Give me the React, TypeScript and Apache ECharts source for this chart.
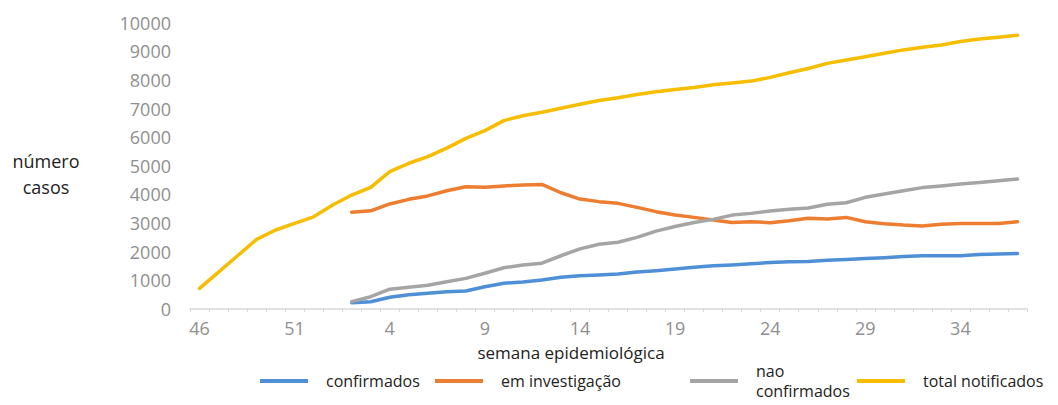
import React, { useEffect, useRef } from "react";
import * as echarts from "echarts";

const weeks: string[] = [
  "46", "47", "48", "49", "50", "51", "52",
  "1", "2", "3", "4", "5", "6", "7", "8", "9", "10", "11", "12", "13", "14", "15", "16", "17", "18", "19",
  "20", "21", "22", "23", "24", "25", "26", "27", "28", "29", "30", "31", "32", "33", "34", "35", "36", "37",
];

const confirmados: (number | null)[] = [
  null, null, null, null, null, null, null, null,
  220, 256, 410, 500, 550, 600, 630, 780, 900, 940, 1010, 1110, 1160, 1190, 1220, 1290, 1340, 1400,
  1460, 1510, 1540, 1580, 1620, 1650, 1660, 1700, 1730, 1760, 1790, 1830, 1860, 1860, 1860, 1900, 1920, 1940,
];

const emInvestigacao: (number | null)[] = [
  null, null, null, null, null, null, null, null,
  3380, 3430, 3670, 3830, 3950, 4130, 4270, 4250, 4300, 4330, 4350, 4060, 3840, 3750, 3690, 3550, 3400, 3280,
  3200, 3110, 3020, 3050, 3015, 3085, 3170, 3140, 3200, 3050, 2980, 2930, 2900, 2960, 2990, 2990, 2990, 3050,
];

const naoConfirmados: (number | null)[] = [
  null, null, null, null, null, null, null, null,
  256, 430, 690, 760, 830, 950, 1070, 1250, 1440, 1540, 1600, 1860, 2100, 2260, 2330, 2500, 2720, 2880,
  3020, 3130, 3280, 3340, 3420, 3480, 3530, 3660, 3710, 3900, 4020, 4130, 4240, 4300, 4370, 4420, 4480, 4540,
];

const totalNotificados: number[] = [
  720, 1290, 1860, 2430, 2760, 2990, 3220, 3630, 3980, 4250, 4800, 5090, 5320, 5620, 5960, 6230, 6580, 6750,
  6870, 7010, 7150, 7280, 7380, 7490, 7590, 7670, 7740, 7830, 7890, 7960, 8090, 8250, 8400, 8580, 8700, 8810,
  8930, 9050, 9140, 9220, 9340, 9430, 9490, 9560,
];

const seriesNames = ["confirmados", "em investigação", "nao confirmados", "total notificados"];
const seriesColors = ["#4f8fd6", "#ed7d31", "#a5a5a5", "#f7bd00"];

const WORD_FONT = '"Open Sans", "DejaVu Sans", sans-serif';

export default function App() {
  const ref = useRef<HTMLDivElement>(null);

  useEffect(() => {
    if (!ref.current) return;
    const chart = echarts.init(ref.current, undefined, { renderer: "svg" });
    const values = [confirmados, emInvestigacao, naoConfirmados, totalNotificados];

    const legendText = {
      fontFamily: WORD_FONT,
      fontSize: 16,
      color: "#222",
      lineHeight: 20,
      padding: [0, 0, 0, 13],
    };
    const legendBase = {
      orient: "horizontal",
      padding: 0,
      itemWidth: 48,
      itemHeight: 4,
      icon: "rect",
      selectedMode: false,
    };

    chart.setOption({
      animation: false,
      backgroundColor: "#ffffff",
      grid: {
        left: 190,
        right: 31,
        top: 22.7,
        bottom: 96,
        containLabel: false,
        outerBoundsMode: "none",
      },
      xAxis: {
        type: "category",
        data: weeks,
        boundaryGap: true,
        axisLine: { show: true, lineStyle: { color: "#d9d9d9", width: 1.5 } },
        axisTick: { show: true, interval: 0, length: 3, lineStyle: { color: "#d9d9d9" } },
        axisLabel: {
          interval: 4,
          margin: 11,
          color: "#8f8f8f",
          fontFamily: WORD_FONT,
          fontSize: 18,
          lineHeight: 16,
        },
        splitLine: { show: false },
      },
      yAxis: {
        type: "value",
        min: 0,
        max: 10000,
        interval: 1000,
        axisLine: { show: false },
        axisTick: { show: false },
        splitLine: { show: false },
        axisLabel: {
          margin: 19,
          color: "#8f8f8f",
          fontFamily: WORD_FONT,
          fontSize: 18,
          formatter: (v: number) => String(v),
        },
      },
      legend: [
        { ...legendBase, data: [seriesNames[0]], left: 260, top: 371, textStyle: legendText },
        { ...legendBase, data: [seriesNames[1]], left: 435, top: 371, textStyle: legendText },
        {
          ...legendBase,
          data: [seriesNames[2]],
          left: 690,
          top: 351,
          formatter: () => "nao\nconfirmados",
          textStyle: { ...legendText, padding: [20, 0, 0, 13] },
        },
        { ...legendBase, data: [seriesNames[3]], left: 857, top: 371, textStyle: legendText },
      ],
      graphic: [
        {
          type: "text",
          x: 46,
          y: 174,
          style: {
            text: "número\ncasos",
            align: "center",
            verticalAlign: "middle",
            font: '18px "Open Sans", sans-serif',
            lineHeight: 26,
            fill: "#222",
          },
        },
        {
          type: "text",
          x: 571,
          y: 352,
          style: {
            text: "semana epidemiológica",
            align: "center",
            verticalAlign: "middle",
            font: '17px "Open Sans", sans-serif',
            lineHeight: 17,
            fill: "#222",
          },
        },
      ],
      series: seriesNames.map((name, i) => ({
        name,
        type: "line",
        data: values[i],
        showSymbol: false,
        symbol: "none",
        smooth: false,
        connectNulls: false,
        color: seriesColors[i],
        lineStyle: { color: seriesColors[i], width: 3.5, cap: "round", join: "round" },
      })),
    });

    return () => {
      chart.dispose();
    };
  }, []);

  return (
    <div
      ref={ref}
      style={{ position: "absolute", left: 0, top: 0, width: 1058, height: 405 }}
    />
  );
}
